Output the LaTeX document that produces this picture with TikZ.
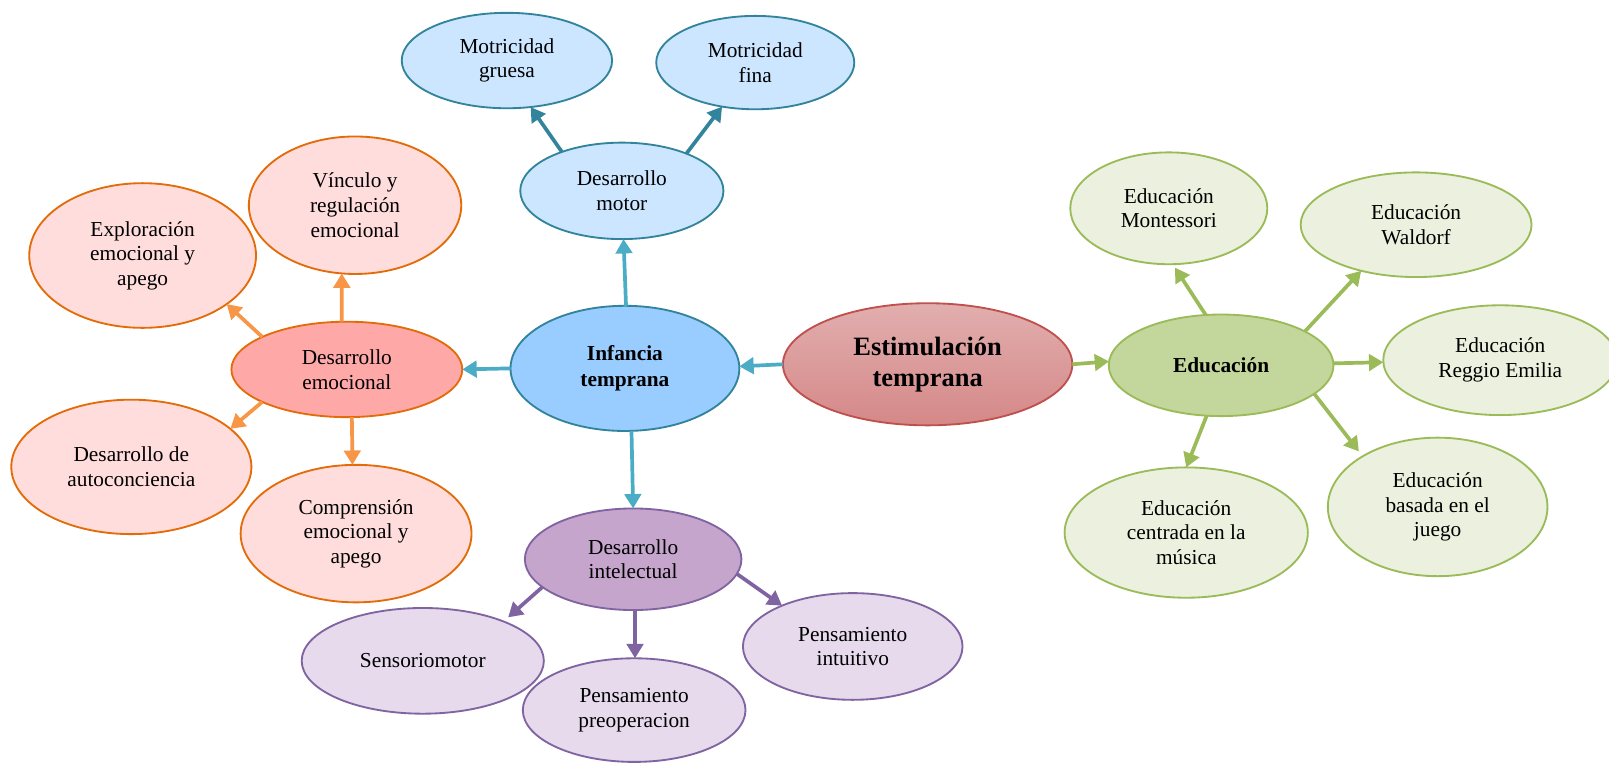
\documentclass[tikz,border=0pt]{standalone}
\usepackage{fontspec}
\setmainfont{Liberation Serif}
\usetikzlibrary{shapes.geometric,arrows.meta}
\definecolor{cBlueA}{HTML}{4BACC6}
\definecolor{cTeal}{HTML}{31849B}
\definecolor{cOrange}{HTML}{F79646}
\definecolor{cOrangeD}{HTML}{E36C09}
\definecolor{cPurple}{HTML}{8064A2}
\definecolor{cGreen}{HTML}{9BBB59}
\definecolor{cRed}{HTML}{C0504D}
\definecolor{fInf}{HTML}{99CCFF}
\definecolor{fMot}{HTML}{CCE6FF}
\definecolor{fEmo}{HTML}{FFA8A8}
\definecolor{fEmoL}{HTML}{FFDDDD}
\definecolor{fInt}{HTML}{C6A5CD}
\definecolor{fIntL}{HTML}{E6DAEC}
\definecolor{fEdu}{HTML}{C3D69B}
\definecolor{fEduL}{HTML}{EBF1DE}
\definecolor{fEstT}{HTML}{E2AEAE}
\definecolor{fEstB}{HTML}{D58888}
\tikzset{
  bubble/.style={ellipse, draw, line width=0.9pt, inner sep=0pt, outer sep=0pt, align=center,
     font=\fontsize{10.4}{12}\selectfont},
  motbox/.style={bubble, draw=cTeal, fill=fMot},
  emobox/.style={bubble, draw=cOrangeD, fill=fEmoL},
  intbox/.style={bubble, draw=cPurple, fill=fIntL},
  edubox/.style={bubble, draw=cGreen, fill=fEduL},
  arr/.style={line width=1.8pt, -{Triangle[length=7pt,width=8pt]}},
  arrBlue/.style={arr, draw=cBlueA, fill=cBlueA},
  arrTeal/.style={arr, draw=cTeal, fill=cTeal},
  arrOrange/.style={arr, draw=cOrange, fill=cOrange},
  arrPurple/.style={arr, draw=cPurple, fill=cPurple},
  arrGreen/.style={arr, draw=cGreen, fill=cGreen},
}
\begin{document}
\begin{tikzpicture}[x=0.5pt,y=-0.5pt]
\clip (0,0) rectangle (1568,743);
\fill[white] (0,0) rectangle (1568,743);

% central nodes
\node[bubble, draw=cRed, top color=fEstT, bottom color=fEstB, minimum width=141pt, minimum height=59.5pt,
      font=\fontsize{12.9}{15}\selectfont\bfseries] (est) at (904,355) {Estimulación\\temprana};
\node[bubble, draw=cTeal, fill=fInf, minimum width=111.5pt, minimum height=61pt,
      font=\fontsize{10.4}{12.5}\selectfont\bfseries] (inf) at (609,359) {Infancia\\temprana};
\node[bubble, draw=cGreen, fill=fEdu, minimum width=109.5pt, minimum height=49.5pt,
      font=\fontsize{10.4}{12}\selectfont\bfseries] (edu) at (1190,356) {Educación};

% motor
\node[motbox, minimum width=99pt, minimum height=47pt] (dmot) at (606,186) {Desarrollo\\motor};
\node[motbox, minimum width=102.5pt, minimum height=46.5pt] (mg) at (494,59) {Motricidad\\gruesa};
\node[motbox, minimum width=96.5pt, minimum height=45.5pt] (mf) at (736,61) {Motricidad\\fina};

% emocional
\node[bubble, draw=cOrangeD, fill=fEmo, minimum width=112.5pt, minimum height=46.5pt] (demo) at (338,360) {Desarrollo\\emocional};
\node[emobox, minimum width=103.5pt, minimum height=67pt] (vin) at (346,200) {Vínculo y\\regulación\\emocional};
\node[emobox, minimum width=110.5pt, minimum height=70.5pt] (exp) at (139,249) {Exploración\\emocional y\\apego};
\node[emobox, minimum width=117pt, minimum height=65.5pt] (auto) at (128,455) {Desarrollo de\\autoconciencia};
\node[emobox, minimum width=112.5pt, minimum height=67pt] (comp) at (347,520) {Comprensión\\emocional y\\apego};

% intelectual
\node[bubble, draw=cPurple, fill=fInt, minimum width=105.5pt, minimum height=49.5pt] (dint) at (617,545) {Desarrollo\\intelectual};
\node[intbox, minimum width=118pt, minimum height=51.5pt] (sens) at (412,644) {Sensoriomotor};
\node[intbox, minimum width=108.5pt, minimum height=50.5pt] (preop) at (618,692) {Pensamiento\\preoperacion};
\node[intbox, minimum width=107pt, minimum height=52pt] (intu) at (831,630) {Pensamiento\\intuitivo};

% educacion
\node[edubox, minimum width=96pt, minimum height=54.5pt] (mont) at (1139,203) {Educación\\Montessori};
\node[edubox, minimum width=112.5pt, minimum height=51pt] (wald) at (1380,219) {Educación\\Waldorf};
\node[edubox, minimum width=114pt, minimum height=53.5pt] (reg) at (1462,351) {Educación\\Reggio Emilia};
\node[edubox, minimum width=107pt, minimum height=67.5pt] (jue) at (1401,494) {Educación\\basada en el\\juego};
\node[edubox, minimum width=118.5pt, minimum height=63.5pt] (mus) at (1156,519) {Educación\\centrada en la\\música};

% connectors
\draw[arrBlue] (est.180) -- (inf.1);
\draw[arrGreen] (est.0) -- (edu.178);
\draw[arrBlue] (inf.89) -- (dmot.-88);
\draw[arrBlue] (inf.180) -- (demo.0);
\draw[arrBlue] (inf.-84) -- (dint.90);

\draw[arrTeal] (dmot.147) -- (mg.-63);
\draw[arrTeal] (dmot.30) -- (mf.233);

\draw[arrOrange] (demo.96) -- (vin.259);
\draw[arrOrange] (demo.159) -- (exp.-30);
\draw[arrOrange] (demo.201) -- (auto.21);
\draw[arrOrange] (demo.-84) -- (comp.93);

\draw[arrPurple, shorten >=3pt] (dint.197) -- (sens.26);
\draw[arrPurple] (dint.-88) -- (preop.89);
\draw[arrPurple] (dint.-8) -- (intu.150);

\draw[arrGreen, shorten >=2pt] (edu.107) -- (mont.274);
\draw[arrGreen] (edu.22) -- (wald.220);
\draw[arrGreen] (edu.1) -- (reg.181);
\draw[arrGreen, shorten >=3pt] (edu.-17) -- (jue.146);
\draw[arrGreen] (edu.254) -- (mus.90);
\end{tikzpicture}
\end{document}
